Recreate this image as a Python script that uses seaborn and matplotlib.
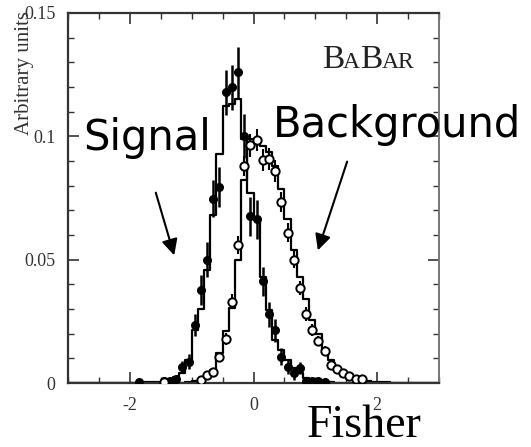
import numpy as np
import pandas as pd
import matplotlib
matplotlib.use("Agg")
import matplotlib.pyplot as plt
import seaborn as sns

# signal MC histogram (bin centers, bin width 0.1)
sig_mc_x = [-1.75, -1.65, -1.55, -1.45, -1.35, -1.25, -1.15, -1.05, -0.95, -0.85,
            -0.75, -0.65, -0.55, -0.45, -0.35, -0.25, -0.15, -0.05, 0.05, 0.15,
            0.25, 0.35, 0.45, 0.55, 0.65, 0.75, 0.85, 0.95, 1.05, 1.15, 1.25]
sig_mc = [0.0003, 0.0003, 0.0005, 0.001, 0.0015, 0.0025, 0.004, 0.0093, 0.0215, 0.030,
          0.046, 0.068, 0.0927, 0.1123, 0.113, 0.1153, 0.0988, 0.077, 0.066, 0.043,
          0.0297, 0.0175, 0.0134, 0.0093, 0.006, 0.004, 0.002, 0.0012, 0.0008, 0.0005, 0.0003]

# signal data points
sig_x = [-1.85, -1.45, -1.35, -1.25, -1.15, -1.05, -0.95, -0.85, -0.75, -0.65,
         -0.55, -0.45, -0.35, -0.25, -0.15, -0.05, 0.05, 0.15, 0.25, 0.35,
         0.45, 0.55, 0.65, 0.75, 0.85, 0.95, 1.05, 1.15]
sig_y = [0.0005, 0.0008, 0.001, 0.0015, 0.0066, 0.0087, 0.0236, 0.0378, 0.050, 0.0747,
         0.0794, 0.1178, 0.1198, 0.1259, 0.1001, 0.0676, 0.0663, 0.0412, 0.0279, 0.0213,
         0.0107, 0.0066, 0.0039, 0.006, 0.001, 0.0008, 0.001, 0.0005]
sig_err = [0.0008, 0.001, 0.001, 0.0012, 0.0025, 0.003, 0.0045, 0.006, 0.007, 0.0075,
           0.008, 0.009, 0.009, 0.0105, 0.009, 0.008, 0.008, 0.006, 0.005, 0.0045,
           0.0035, 0.003, 0.0025, 0.0025, 0.001, 0.001, 0.001, 0.0008]

# background MC histogram
bkg_mc_x = [-1.05, -0.95, -0.85, -0.75, -0.65, -0.55, -0.45, -0.35, -0.25, -0.15,
            -0.05, 0.05, 0.15, 0.25, 0.35, 0.45, 0.55, 0.65, 0.75, 0.85,
            0.95, 1.05, 1.15, 1.25, 1.35, 1.45, 1.55, 1.65, 1.75, 1.85,
            1.95, 2.05, 2.15, 2.25, 2.35]
bkg_mc = [0.0003, 0.0008, 0.0015, 0.0033, 0.0053, 0.012, 0.021, 0.0305, 0.050, 0.0825,
          0.0988, 0.097, 0.096, 0.0935, 0.088, 0.0785, 0.0663, 0.054, 0.043, 0.034,
          0.0256, 0.020, 0.0134, 0.0093, 0.006, 0.004, 0.0028, 0.0018, 0.0012, 0.0008,
          0.0005, 0.0004, 0.0003, 0.0002, 0.0002]

# background data points
bkg_x = [-1.45, -0.85, -0.75, -0.65, -0.55, -0.45, -0.35, -0.25, -0.15, -0.05,
         0.05, 0.15, 0.25, 0.35, 0.45, 0.55, 0.65, 0.75, 0.85, 0.95,
         1.05, 1.15, 1.25, 1.35, 1.45, 1.55, 1.65, 1.75]
bkg_y = [0.0004, 0.0012, 0.0033, 0.0046, 0.0105, 0.0178, 0.033, 0.056, 0.088, 0.0963,
         0.0985, 0.0903, 0.0907, 0.086, 0.0735, 0.061, 0.050, 0.0385, 0.028, 0.0215,
         0.017, 0.013, 0.0073, 0.0058, 0.0042, 0.0028, 0.0015, 0.0015]
bkg_err = [0.0005, 0.0008, 0.0012, 0.0015, 0.002, 0.0025, 0.003, 0.0035, 0.004, 0.0045,
           0.0045, 0.0045, 0.0045, 0.0045, 0.004, 0.004, 0.0035, 0.003, 0.003, 0.0025,
           0.0022, 0.002, 0.0015, 0.0013, 0.0011, 0.0009, 0.0007, 0.0007]

y_ticks = [0, 0.05, 0.1, 0.15]
y_labels = ["0", "0.05", "0.1", "0.15"]
x_ticks = [-2, 0, 2]
x_labels = ["-2", "0", "2"]

sns.set_style("ticks")
plt.rcParams['font.family'] = ['Liberation Serif', 'DejaVu Serif']
plt.rcParams['text.color'] = 'black'

fig = plt.figure(figsize=(5.31, 4.47), dpi=100)
ax = fig.add_axes([68/531, 1-383/447, 371/531, 370/447])

sig_df = pd.DataFrame({"fisher": sig_mc_x, "w": sig_mc})
bkg_df = pd.DataFrame({"fisher": bkg_mc_x, "w": bkg_mc})
edges = [round(e, 2) for e in np.arange(-3, 3.0001, 0.1)]
sns.histplot(data=sig_df, x="fisher", weights="w", bins=edges, element="step", fill=False,
             color="black", linewidth=1.6, ax=ax)
sns.histplot(data=bkg_df, x="fisher", weights="w", bins=edges, element="step", fill=False,
             color="black", linewidth=1.6, ax=ax)

ax.errorbar(sig_x, sig_y, yerr=sig_err, fmt="o", ms=5.5, color="black",
            mfc="black", mec="black", elinewidth=1.8, capsize=0, zorder=3)
ax.errorbar(bkg_x, bkg_y, yerr=bkg_err, fmt="o", ms=6, color="black",
            mfc="white", mec="black", mew=1.4, elinewidth=1.5, capsize=0, zorder=3)

ax.set_xlim(-3, 3)
ax.set_ylim(0, 0.15)
ax.set_xticks(x_ticks)
ax.set_xticklabels(x_labels)
ax.set_yticks(y_ticks)
ax.set_yticklabels(y_labels)
ax.set_xticks(np.arange(-3, 3.01, 0.5), minor=True)
ax.set_yticks(np.arange(0, 0.151, 0.01), minor=True)
ax.tick_params(which="both", direction="in", top=True, right=True, colors="#333333",
               labelsize=13)
ax.tick_params(which="major", length=8, width=1.2)
ax.tick_params(which="minor", length=4, width=1.0)
ax.tick_params(axis="y", pad=9)
ax.tick_params(axis="x", pad=10)
ax.set_xlabel("")
ax.set_ylabel("")
for s in ["left", "bottom", "top"]:
    ax.spines[s].set_color("#333333")
    ax.spines[s].set_linewidth(1.6)
ax.spines["right"].set_color("#777777")
ax.spines["right"].set_linewidth(1.4)

fig.text(25/531, 1-11/447, "Arbitrary units", rotation=90, ha="center", va="top",
         fontsize=15, color="#333333")
fig.text(364/531, 1-437/447, "Fisher", ha="center", va="baseline", fontsize=33)

# BaBar logo
logo_y = 1-68/447
fig.text(322/531, logo_y, "B", fontsize=24, va="baseline", color="#222222")
fig.text(343/531, logo_y, "A", fontsize=17, va="baseline", color="#222222")
fig.text(360/531, logo_y, "B", fontsize=24, va="baseline", color="#222222")
fig.text(382/531, logo_y, "AR", fontsize=17, va="baseline", color="#222222")

# hand-drawn style labels with arrows
fig.text(83/531, 1-150/447, "Signal", fontsize=30, va="baseline", family="DejaVu Sans",
         color="black")
fig.text(273/531, 1-137/447, "Background", fontsize=30, va="baseline", family="DejaVu Sans",
         color="black")
ax.annotate("", xy=(175, 447-258), xytext=(155, 447-190), xycoords="figure pixels",
            textcoords="figure pixels",
            arrowprops=dict(arrowstyle="-|>", mutation_scale=24, lw=1.5, color="black"))
ax.annotate("", xy=(317, 447-253), xytext=(348, 447-159), xycoords="figure pixels",
            textcoords="figure pixels",
            arrowprops=dict(arrowstyle="-|>", mutation_scale=24, lw=1.5, color="black"))

fig.savefig("out.png", dpi=100, facecolor="white")
